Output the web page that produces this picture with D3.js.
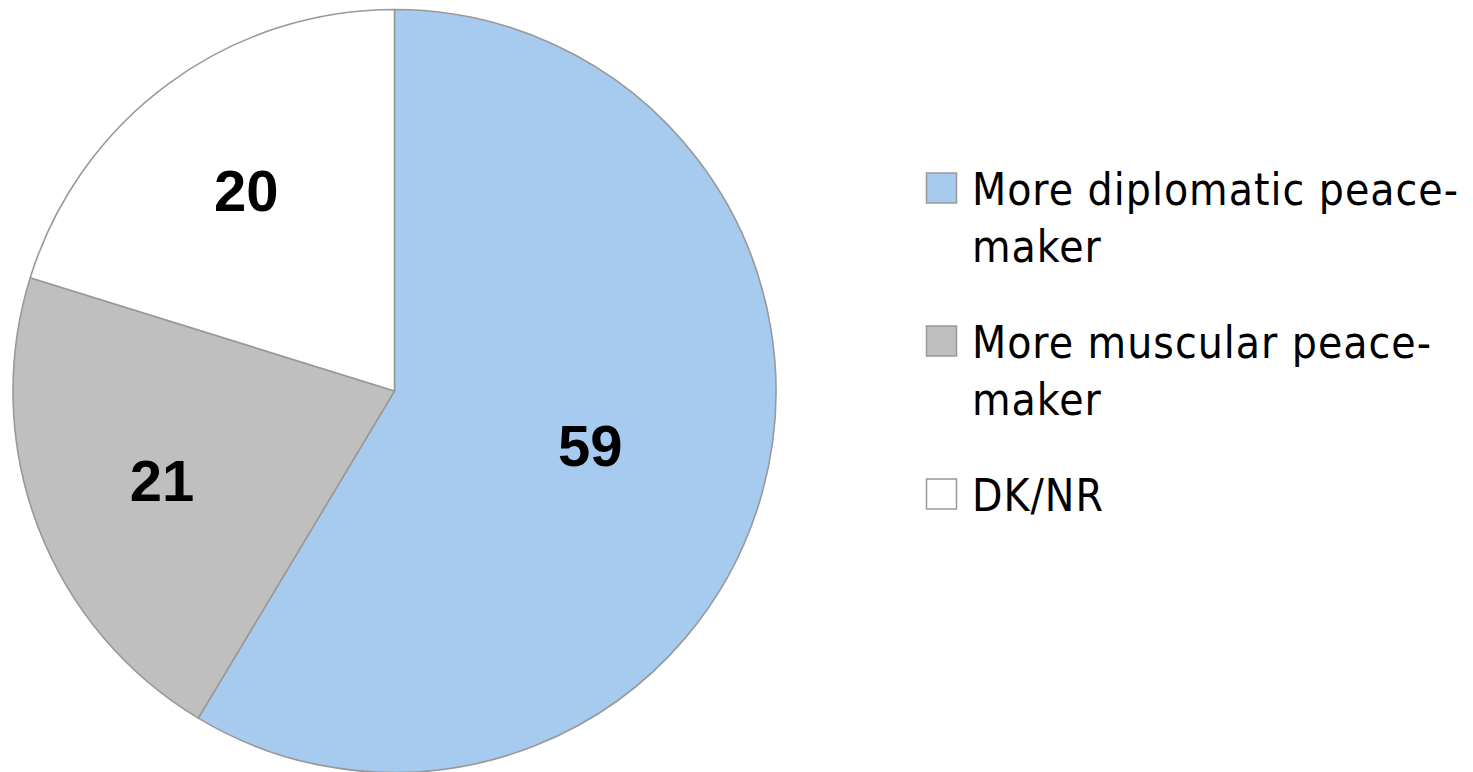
<!DOCTYPE html>
<html>
<head>
<meta charset="utf-8">
<script src="https://cdn.jsdelivr.net/npm/d3@7"></script>
<style>
  html, body { margin: 0; padding: 0; background: #fff; }
  svg { display: block; }
</style>
</head>
<body>
<svg id="chart" width="1473" height="772"></svg>
<script>
// ---- data ----
const categories = ["More diplomatic peace-maker", "More muscular peace-maker", "DK/NR"];
const values = [58.6, 21.2, 20.2];
const labels = ["59", "21", "20"];
const colors = ["#A7CAEF", "#BFBFBF", "#FFFFFF"];

// ---- layout ----
const svg = d3.select("#chart");
const cx = 394.5, cy = 391, R = 381.5;
const strokeCol = "#999999";

const data = categories.map((c, i) => ({ name: c, value: values[i], label: labels[i], color: colors[i] }));
const total = d3.sum(values);

const pie = d3.pie().value(d => d.value).sort(null).startAngle(0).endAngle(2 * Math.PI);
const arcs = pie(data);
const arc = d3.arc().innerRadius(0).outerRadius(R);
// best-fit style: larger slices pull their label a little toward the centre
const labelRadius = d => R * (0.72 - 0.32 * d.data.value / total);

const g = svg.append("g").attr("transform", `translate(${cx},${cy})`);
g.selectAll("path.slice").data(arcs).join("path")
  .attr("class", "slice")
  .attr("d", arc)
  .attr("fill", d => d.data.color)
  .attr("stroke", strokeCol)
  .attr("stroke-width", 1.6)
  .attr("stroke-linejoin", "round");

g.selectAll("text.lbl").data(arcs).join("text")
  .attr("class", "lbl")
  .attr("transform", d => {
    const r = labelRadius(d);
    return `translate(${d3.arc().innerRadius(r).outerRadius(r).centroid(d)})`;
  })
  .attr("text-anchor", "middle")
  .attr("dy", "0.36em")
  .style("font-family", "'Liberation Sans', Arial, sans-serif")
  .style("font-weight", "bold")
  .style("font-size", "58px")
  .attr("fill", "#000")
  .text(d => d.data.label);

// ---- legend ----
const legendY = d3.scalePoint().domain(categories).range([172.5, 478.5]);
const lg = svg.append("g");
const items = lg.selectAll("g.item").data(data).join("g")
  .attr("class", "item")
  .attr("transform", d => `translate(926,${legendY(d.name)})`);

items.append("rect")
  .attr("x", 0.5).attr("y", 0.5)
  .attr("width", 30).attr("height", 30)
  .attr("fill", d => d.color)
  .attr("stroke", strokeCol)
  .attr("stroke-width", 1.5);

items.append("text")
  .attr("x", 46)
  .attr("y", 32.5)
  .style("font-family", "'DejaVu Sans Condensed', 'DejaVu Sans', Verdana, sans-serif")
  .style("font-stretch", "condensed")
  .style("font-size", "44px")
  .style("letter-spacing", "1px")
  .attr("fill", "#000")
  .each(function(d) {
    const lines = d.name.split(/(?<=-)(?=\w)/);
    const t = d3.select(this);
    lines.forEach((ln, i) => {
      t.append("tspan").attr("x", 46).attr("dy", i === 0 ? 0 : 56.5).text(ln);
    });
  });
</script>
</body>
</html>
